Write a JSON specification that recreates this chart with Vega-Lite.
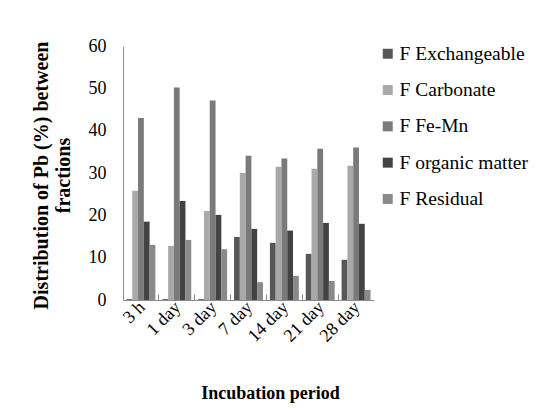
{
  "$schema": "https://vega.github.io/schema/vega-lite/v6.json",
  "autosize": {"type": "none"},
  "width": 251,
  "height": 254,
  "padding": {"left": 123, "top": 46, "right": 175, "bottom": 114},
  "background": "white",
  "config": {
    "font": "Liberation Serif",
    "view": {"stroke": null},
    "axis": {"domainColor": "#8c8c8c", "labelColor": "#000000", "titleColor": "#000000", "grid": false}
  },
  "data": {"values": [
    {"period": "3 h", "fraction": "F Exchangeable", "value": 0.2},
    {"period": "3 h", "fraction": "F Carbonate", "value": 25.8},
    {"period": "3 h", "fraction": "F Fe-Mn", "value": 43.0},
    {"period": "3 h", "fraction": "F organic matter", "value": 18.5},
    {"period": "3 h", "fraction": "F Residual", "value": 13.0},
    {"period": "1 day", "fraction": "F Exchangeable", "value": 0.2},
    {"period": "1 day", "fraction": "F Carbonate", "value": 12.8},
    {"period": "1 day", "fraction": "F Fe-Mn", "value": 50.2},
    {"period": "1 day", "fraction": "F organic matter", "value": 23.4},
    {"period": "1 day", "fraction": "F Residual", "value": 14.2},
    {"period": "3 day", "fraction": "F Exchangeable", "value": 0.2},
    {"period": "3 day", "fraction": "F Carbonate", "value": 21.0},
    {"period": "3 day", "fraction": "F Fe-Mn", "value": 47.1},
    {"period": "3 day", "fraction": "F organic matter", "value": 20.1},
    {"period": "3 day", "fraction": "F Residual", "value": 12.0},
    {"period": "7 day", "fraction": "F Exchangeable", "value": 14.9},
    {"period": "7 day", "fraction": "F Carbonate", "value": 30.0},
    {"period": "7 day", "fraction": "F Fe-Mn", "value": 34.1},
    {"period": "7 day", "fraction": "F organic matter", "value": 16.8},
    {"period": "7 day", "fraction": "F Residual", "value": 4.2},
    {"period": "14 day", "fraction": "F Exchangeable", "value": 13.5},
    {"period": "14 day", "fraction": "F Carbonate", "value": 31.5},
    {"period": "14 day", "fraction": "F Fe-Mn", "value": 33.4},
    {"period": "14 day", "fraction": "F organic matter", "value": 16.4},
    {"period": "14 day", "fraction": "F Residual", "value": 5.7},
    {"period": "21 day", "fraction": "F Exchangeable", "value": 10.9},
    {"period": "21 day", "fraction": "F Carbonate", "value": 31.0},
    {"period": "21 day", "fraction": "F Fe-Mn", "value": 35.7},
    {"period": "21 day", "fraction": "F organic matter", "value": 18.2},
    {"period": "21 day", "fraction": "F Residual", "value": 4.5},
    {"period": "28 day", "fraction": "F Exchangeable", "value": 9.5},
    {"period": "28 day", "fraction": "F Carbonate", "value": 31.7},
    {"period": "28 day", "fraction": "F Fe-Mn", "value": 36.0},
    {"period": "28 day", "fraction": "F organic matter", "value": 18.0},
    {"period": "28 day", "fraction": "F Residual", "value": 2.4}
  ]},
  "mark": {"type": "bar"},
  "encoding": {
    "x": {
      "field": "period", "type": "nominal",
      "sort": ["3 h", "1 day", "3 day", "7 day", "14 day", "21 day", "28 day"],
      "scale": {"paddingInner": 0, "paddingOuter": 0},
      "axis": {
        "title": "Incubation period",
        "titleFontSize": 18, "titleFontWeight": "bold",
        "titleX": 147, "titleY": 93, "titleBaseline": "middle",
        "labelAngle": -45, "labelFontSize": 18, "labelPadding": 4, "labelOffset": -5,
        "ticks": true, "bandPosition": 0, "tickSize": -6, "tickColor": "#8c8c8c",
        "domainColor": "#8c8c8c"
      }
    },
    "xOffset": {
      "field": "fraction", "type": "nominal",
      "sort": ["F Exchangeable", "F Carbonate", "F Fe-Mn", "F organic matter", "F Residual"],
      "scale": {"paddingInner": 0, "paddingOuter": 0.6}
    },
    "y": {
      "field": "value", "type": "quantitative",
      "scale": {"domain": [0, 60]},
      "axis": {
        "title": ["Distribution of Pb (%) between", "fractions"],
        "titleFontSize": 20, "titleFontWeight": "bold",
        "titleX": -72, "titleY": 129, "titleLineHeight": 22,
        "titleAlign": "center", "titleAngle": -90,
        "values": [0, 10, 20, 30, 40, 50, 60],
        "ticks": false, "labelPadding": 17, "labelFontSize": 18
      }
    },
    "color": {
      "field": "fraction", "type": "nominal",
      "sort": ["F Exchangeable", "F Carbonate", "F Fe-Mn", "F organic matter", "F Residual"],
      "scale": {
        "domain": ["F Exchangeable", "F Carbonate", "F Fe-Mn", "F organic matter", "F Residual"],
        "range": ["#575757", "#a9a9a9", "#7a7a7a", "#434343", "#8a8a8a"]
      },
      "legend": {
        "title": null, "orient": "none", "legendX": 255, "legendY": -2,
        "symbolType": "square", "symbolSize": 100, "symbolStrokeWidth": 0,
        "labelFontSize": 19.5, "labelOffset": 2, "rowPadding": 15.3, "padding": 0
      }
    }
  }
}
